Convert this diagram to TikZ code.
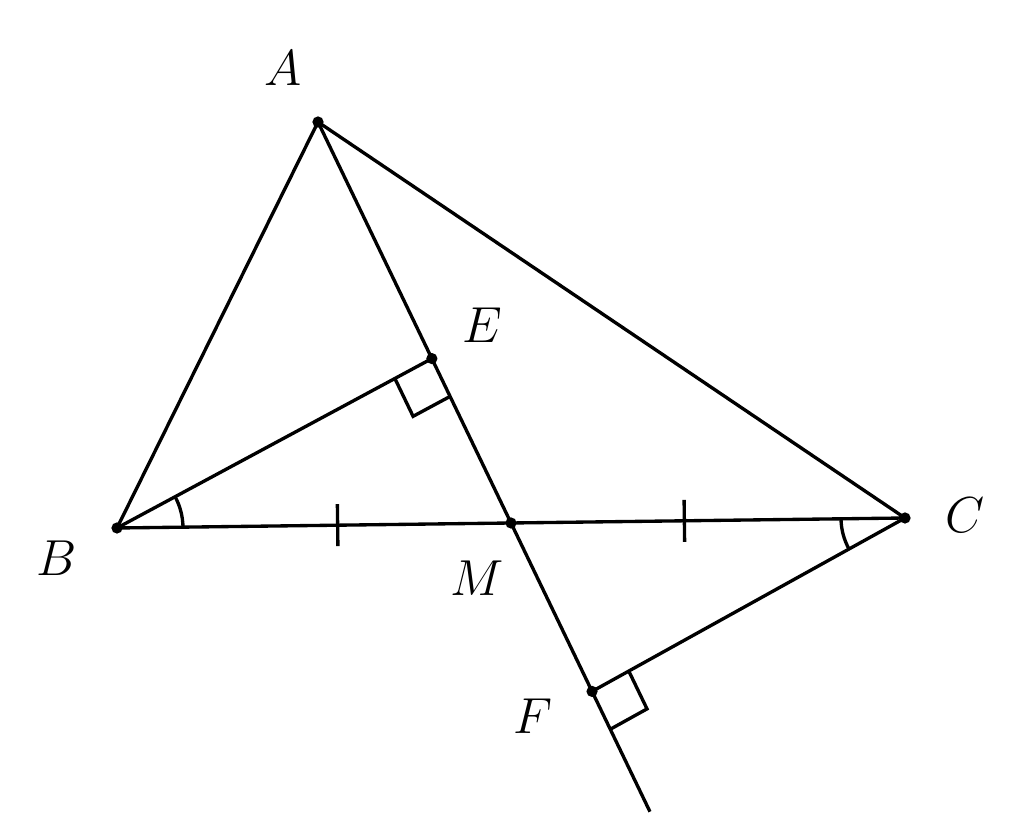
\documentclass[tikz,border=0pt]{standalone}
\usepackage{amsmath}
\usetikzlibrary{calc,angles,positioning}

\begin{document}
\begin{tikzpicture}[line width=0.95pt]
\useasboundingbox (0,0) rectangle (10.24,-8.29);

\coordinate (A) at (3.18,-1.22);
\coordinate (B) at (1.17,-5.28);
\coordinate (C) at (9.05,-5.18);
\coordinate (M) at ($(B)!0.5!(C)$);
\coordinate (E) at ($(A)!0.59!(M)$);
\coordinate (F) at ($(A)!1.42!(M)$);
\coordinate (T) at ($(A)!1.72!(M)$);

\draw (B) -- (A) -- (C) -- cycle;
\draw (A) -- (T);
\draw (B) -- (E);
\draw (C) -- (F);

\pgfmathsetmacro{\s}{0.42}

% right angles at E and F
\coordinate (e1) at ($(E)!\s cm!(B)$);
\coordinate (e2) at ($(E)!\s cm!(M)$);
\draw (e1) -- ($(e1)+(e2)-(E)$) -- (e2);
\coordinate (f1) at ($(F)!\s cm!(C)$);
\coordinate (f2) at ($(F)!\s cm!(T)$);
\draw (f1) -- ($(f1)+(f2)-(F)$) -- (f2);

% equal angles
\pic [draw, angle radius=0.66cm] {angle = C--B--E};
\pic [draw, angle radius=0.64cm] {angle = B--C--F};

% equal parts
\foreach \p/\q/\t in {B/M/0.56, M/C/0.44} {
	\coordinate (k) at ($(\p)!\t!(\q)$);
	\draw ($(k)!0.21cm!90:(\q)$) -- ($(k)!0.21cm!-90:(\q)$);
}

\foreach \p in {A,B,C,M,E,F} {
	\fill (\p) circle (1.6pt);
}

\node (lA) at (2.83,-0.68) {\Large $A$};
\node (lE) at (4.82,-3.25) {\Large $E$};
\node (lB) at (0.57,-5.58) {\Large $B$};
\node (lC) at (9.65,-5.15) {\Large $C$};
\node (lM) at (4.77,-5.78) {\Large $M$};
\node (lF) at (5.33,-7.16) {\Large $F$};

\end{tikzpicture}
\end{document}
